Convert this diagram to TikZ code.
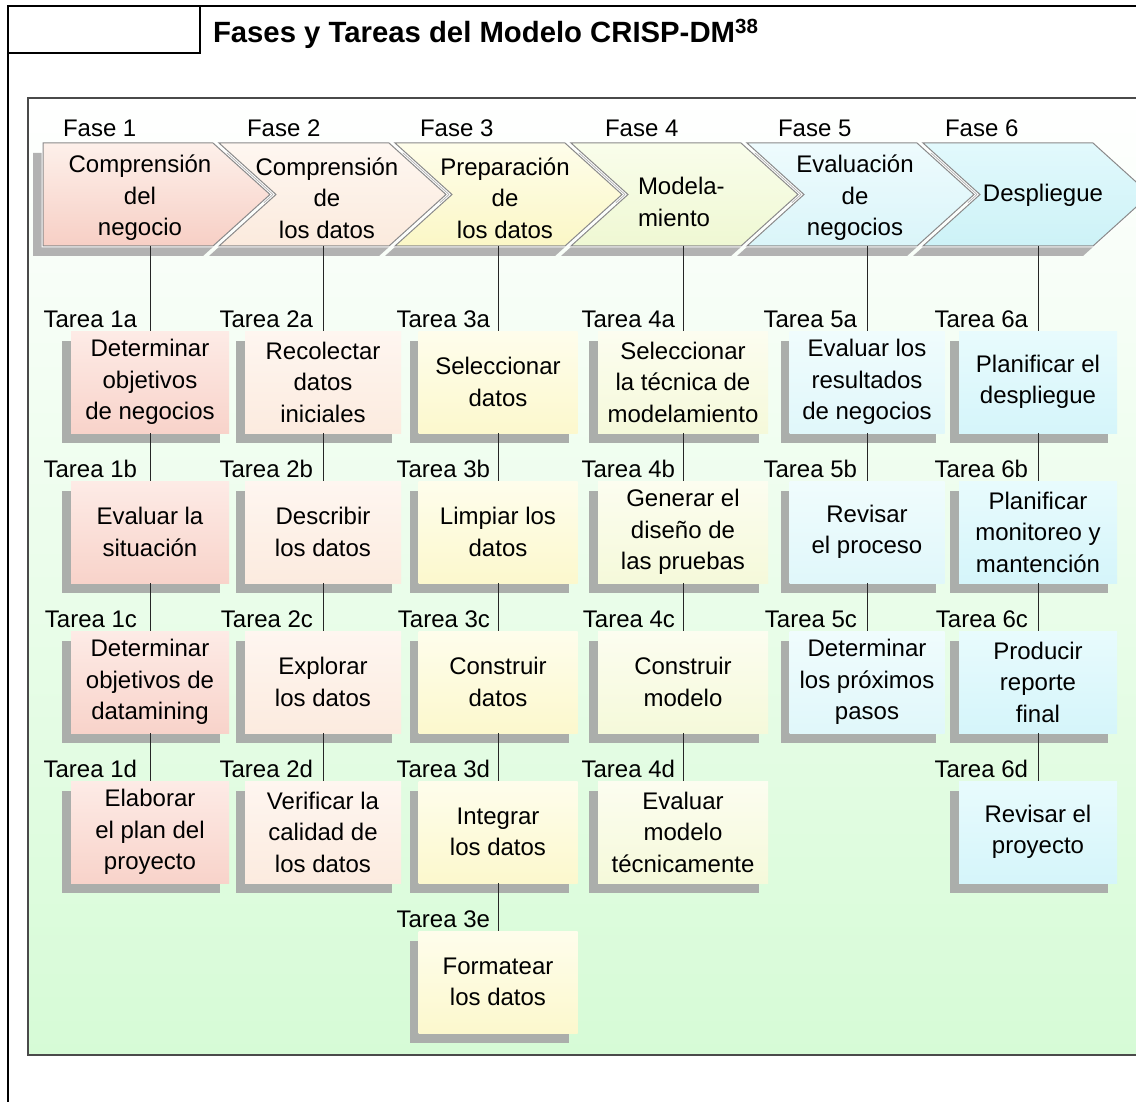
\documentclass[tikz,border=0pt]{standalone}
\usepackage{fontspec}
\setmainfont{Liberation Sans}
\usetikzlibrary{shadows}

% phase chevron colours (top / bottom of the gradient)
\definecolor{ch1t}{HTML}{FDF0EA}\definecolor{ch1b}{HTML}{F7CFC5}
\definecolor{ch2t}{HTML}{FEF7F1}\definecolor{ch2b}{HTML}{FBEADD}
\definecolor{ch3t}{HTML}{FEFDEA}\definecolor{ch3b}{HTML}{FBF7C6}
\definecolor{ch4t}{HTML}{F9FDEB}\definecolor{ch4b}{HTML}{EFF8D3}
\definecolor{ch5t}{HTML}{EEFBFD}\definecolor{ch5b}{HTML}{DAF5F9}
\definecolor{ch6t}{HTML}{E2F9FC}\definecolor{ch6b}{HTML}{CDF2F7}
% task box colours
\definecolor{t1t}{HTML}{FDEBE6}\definecolor{t1b}{HTML}{F8D3CA}
\definecolor{t2t}{HTML}{FEF6F0}\definecolor{t2b}{HTML}{FCEBDF}
\definecolor{t3t}{HTML}{FEFDEC}\definecolor{t3b}{HTML}{FCF8CD}
\definecolor{t4t}{HTML}{FCFDF0}\definecolor{t4b}{HTML}{F5F9DA}
\definecolor{t5t}{HTML}{F0FCFD}\definecolor{t5b}{HTML}{E0F7FA}
\definecolor{t6t}{HTML}{E8FBFD}\definecolor{t6b}{HTML}{D5F5FA}
\definecolor{panelgreen}{HTML}{D6FBD6}
\definecolor{shadowgray}{HTML}{ABAEAB}
\definecolor{chevshade}{HTML}{B2B2B2}
\definecolor{chevline}{HTML}{8A8A8A}
\definecolor{panelline}{HTML}{4A4A4A}

\begin{document}
\begin{tikzpicture}[x=1pt,y=-1pt,
  every node/.style={inner sep=0pt, outer sep=0pt},
  body/.style={font=\fontsize{24}{31.5}\selectfont, align=center, text=black},
  fase/.style={font=\fontsize{24}{29}\selectfont, anchor=base west, text=black},
  tarea/.style={font=\fontsize{24}{29}\selectfont, anchor=base east, text=black},
  task/.style={body, minimum height=102pt,
    drop shadow={shadow xshift=-9pt, shadow yshift=-10pt, fill=shadowgray, opacity=1}},
  k1/.style={top color=t1t, bottom color=t1b, minimum width=158pt},
  k2/.style={top color=t2t, bottom color=t2b, minimum width=156pt},
  k3/.style={top color=t3t, bottom color=t3b, minimum width=159pt},
  k4/.style={top color=t4t, bottom color=t4b, minimum width=170pt},
  k5/.style={top color=t5t, bottom color=t5b, minimum width=155pt},
  k6/.style={top color=t6t, bottom color=t6b, minimum width=158pt},
  conn/.style={draw=black!85, line width=1pt},
]
\useasboundingbox (0,0) rectangle (1136,1102);
\clip (0,0) rectangle (1136,1102);
\fill[white] (0,0) rectangle (1136,1102);

% outer frame and title box
\draw[line width=2pt] (1145,6) -- (8,6) -- (8,1110);
\draw[line width=2pt] (8,53) -- (200,53) -- (200,6);
\node[anchor=base west, font=\bfseries\fontsize{29.3}{35}\selectfont] (title) at (213,43)
  {Fases y Tareas del Modelo CRISP-DM\textsuperscript{38}};

% panel with green gradient
\draw[draw=panelline, line width=1.5pt, top color=white, bottom color=panelgreen]
  (28,98) rectangle (1170,1055);

% chevron shadows
\foreach \i in {1,...,6}{
  \pgfmathsetmacro{\L}{43+176*(\i-1)}
  \pgfmathsetmacro{\N}{\i==1 ? 0 : 57}
  \fill[chevshade, shift={(-10,10)}]
    (\L,143) -- (\L+170,143) -- (\L+227,194.5) -- (\L+170,246) -- (\L,246) -- (\L+\N,194.5) -- cycle;
}
% chevrons
\foreach \i in {1,...,6}{
  \pgfmathsetmacro{\L}{43+176*(\i-1)}
  \pgfmathsetmacro{\N}{\i==1 ? 0 : 57}
  \draw[white, line width=3pt]
    (\L,143) -- (\L+170,143) -- (\L+227,194.5) -- (\L+170,246) -- (\L,246) -- (\L+\N,194.5) -- cycle;
  \draw[chevline, line width=1pt, top color=ch\i t, bottom color=ch\i b]
    (\L,143) -- (\L+170,143) -- (\L+227,194.5) -- (\L+170,246) -- (\L,246) -- (\L+\N,194.5) -- cycle;
}

% phase names
\node[fase] (fase1) at (63,137) {Fase 1};
\node[fase] (fase2) at (247,137) {Fase 2};
\node[fase] (fase3) at (420,137) {Fase 3};
\node[fase] (fase4) at (605,137) {Fase 4};
\node[fase] (fase5) at (778,137) {Fase 5};
\node[fase] (fase6) at (945,137) {Fase 6};

\node[body] (ph1) at (140,198) {Comprensión\\del\\negocio};
\node[body] (ph2) at (327,198) {Comprensión\\de\\los datos};
\node[body] (ph3) at (505,198) {Preparación\\de\\los datos};
\node[body, align=left, anchor=west] (ph4) at (638,202) {Modela-\\miento};
\node[body] (ph5) at (855,198) {Evaluación\\de\\negocios};
\node[body] (ph6) at (1043,195) {Despliegue};

% connector start points under each chevron
\coordinate (f1) at (150,246);
\coordinate (f2) at (323,246);
\coordinate (f3) at (498,246);
\coordinate (f4) at (683,246);
\coordinate (f5) at (867,246);
\coordinate (f6) at (1038,246);

% task boxes
\node[task,k1] (t1a) at (150,382) {Determinar\\objetivos\\de negocios};
\node[task,k1] (t1b) at (150,532) {Evaluar la\\situación};
\node[task,k1] (t1c) at (150,682) {Determinar\\objetivos de\\datamining};
\node[task,k1] (t1d) at (150,832) {Elaborar\\el plan del\\proyecto};

\node[task,k2] (t2a) at (323,382) {Recolectar\\datos\\iniciales};
\node[task,k2] (t2b) at (323,532) {Describir\\los datos};
\node[task,k2] (t2c) at (323,682) {Explorar\\los datos};
\node[task,k2] (t2d) at (323,832) {Verificar la\\calidad de\\los datos};

\node[task,k3] (t3a) at (498,382) {Seleccionar\\datos};
\node[task,k3] (t3b) at (498,532) {Limpiar los\\datos};
\node[task,k3] (t3c) at (498,682) {Construir\\datos};
\node[task,k3] (t3d) at (498,832) {Integrar\\los datos};
\node[task,k3] (t3e) at (498,982) {Formatear\\los datos};

\node[task,k4] (t4a) at (683,382) {Seleccionar\\la técnica de\\modelamiento};
\node[task,k4] (t4b) at (683,532) {Generar el\\diseño de\\las pruebas};
\node[task,k4] (t4c) at (683,682) {Construir\\modelo};
\node[task,k4] (t4d) at (683,832) {Evaluar\\modelo\\técnicamente};

\node[task,k5] (t5a) at (867,382) {Evaluar los\\resultados\\de negocios};
\node[task,k5] (t5b) at (867,532) {Revisar\\el proceso};
\node[task,k5] (t5c) at (867,682) {Determinar\\los próximos\\pasos};

\node[task,k6] (t6a) at (1038,382) {Planificar el\\despliegue};
\node[task,k6] (t6b) at (1038,532) {Planificar\\monitoreo y\\mantención};
\node[task,k6] (t6c) at (1038,682) {Producir\\reporte\\final};
\node[task,k6] (t6d) at (1038,832) {Revisar el\\proyecto};

% connectors
\draw[conn] (f1) -- (t1a); \draw[conn] (t1a) -- (t1b); \draw[conn] (t1b) -- (t1c); \draw[conn] (t1c) -- (t1d);
\draw[conn] (f2) -- (t2a); \draw[conn] (t2a) -- (t2b); \draw[conn] (t2b) -- (t2c); \draw[conn] (t2c) -- (t2d);
\draw[conn] (f3) -- (t3a); \draw[conn] (t3a) -- (t3b); \draw[conn] (t3b) -- (t3c); \draw[conn] (t3c) -- (t3d); \draw[conn] (t3d) -- (t3e);
\draw[conn] (f4) -- (t4a); \draw[conn] (t4a) -- (t4b); \draw[conn] (t4b) -- (t4c); \draw[conn] (t4c) -- (t4d);
\draw[conn] (f5) -- (t5a); \draw[conn] (t5a) -- (t5b); \draw[conn] (t5b) -- (t5c);
\draw[conn] (f6) -- (t6a); \draw[conn] (t6a) -- (t6b); \draw[conn] (t6b) -- (t6c); \draw[conn] (t6c) -- (t6d);

% task labels
\node[tarea] (l1a) at (137,327) {Tarea 1a};
\node[tarea] (l1b) at (137,477) {Tarea 1b};
\node[tarea] (l1c) at (137,627) {Tarea 1c};
\node[tarea] (l1d) at (137,777) {Tarea 1d};
\node[tarea] (l2a) at (313,327) {Tarea 2a};
\node[tarea] (l2b) at (313,477) {Tarea 2b};
\node[tarea] (l2c) at (313,627) {Tarea 2c};
\node[tarea] (l2d) at (313,777) {Tarea 2d};
\node[tarea] (l3a) at (490,327) {Tarea 3a};
\node[tarea] (l3b) at (490,477) {Tarea 3b};
\node[tarea] (l3c) at (490,627) {Tarea 3c};
\node[tarea] (l3d) at (490,777) {Tarea 3d};
\node[tarea] (l3e) at (490,927) {Tarea 3e};
\node[tarea] (l4a) at (675,327) {Tarea 4a};
\node[tarea] (l4b) at (675,477) {Tarea 4b};
\node[tarea] (l4c) at (675,627) {Tarea 4c};
\node[tarea] (l4d) at (675,777) {Tarea 4d};
\node[tarea] (l5a) at (857,327) {Tarea 5a};
\node[tarea] (l5b) at (857,477) {Tarea 5b};
\node[tarea] (l5c) at (857,627) {Tarea 5c};
\node[tarea] (l6a) at (1028,327) {Tarea 6a};
\node[tarea] (l6b) at (1028,477) {Tarea 6b};
\node[tarea] (l6c) at (1028,627) {Tarea 6c};
\node[tarea] (l6d) at (1028,777) {Tarea 6d};
\end{tikzpicture}
\end{document}
